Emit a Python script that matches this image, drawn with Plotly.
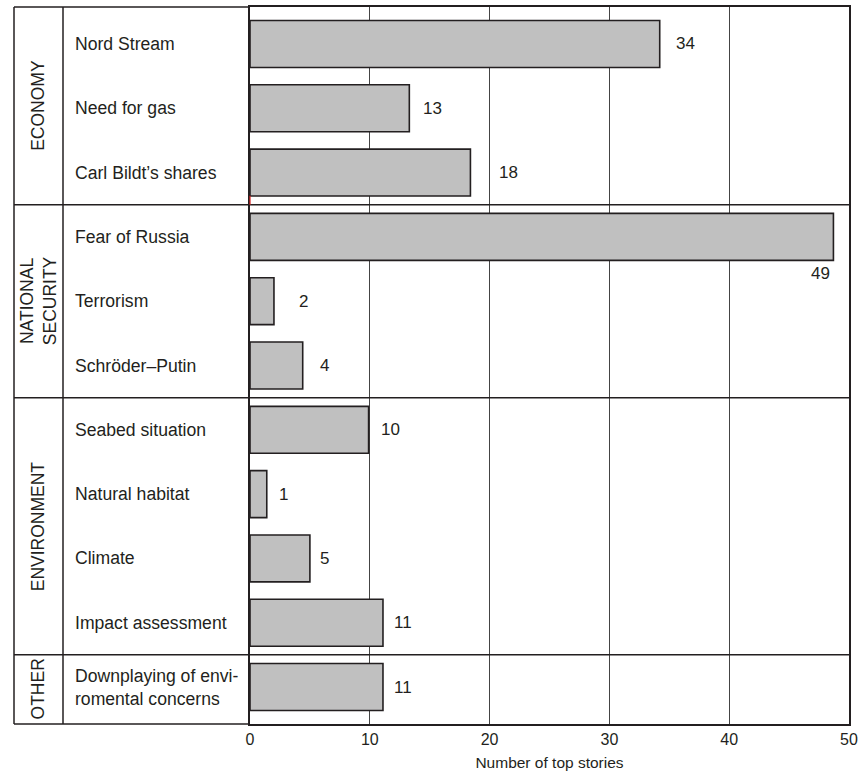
import plotly.graph_objects as go

# ---------------- data ----------------
categories = [
    "Nord Stream", "Need for gas", "Carl Bildt\u2019s shares",
    "Fear of Russia", "Terrorism", "Schr\u00f6der\u2013Putin",
    "Seabed situation", "Natural habitat", "Climate", "Impact assessment",
    "Downplaying of envi-<br>romental concerns",
]
bar_values = [34.2, 13.3, 18.4, 48.7, 2.0, 4.4, 9.9, 1.4, 5.0, 11.1, 11.1]  # bar lengths as drawn
count_labels = ["34", "13", "18", "49", "2", "4", "10", "1", "5", "11", "11"]  # printed counts
groups = ["ECONOMY", "NATIONAL<br>SECURITY", "ENVIRONMENT", "OTHER"]
group_sizes = [3, 3, 4, 1]
x_ticks = [0, 10, 20, 30, 40, 50]
x_title = "Number of top stories"

# ---------------- styling / layout constants ----------------
W, H = 858, 774
ML, MR, MT, MB = 250, 9, 7, 50
PW = W - ML - MR
Y0, Y1 = -0.575, len(categories) - 1 + 0.575
INK = "#231f20"
FONT = "Liberation Sans, Arial, Helvetica, sans-serif"
label_xshift = [14, 12, 27, None, 23, 15, 10, 10, 8, 9, 9]


def px_to_paper_x(px):
    return (px - ML) / PW


def idx_to_paper_y(i):
    return 1 - (i - Y0) / (Y1 - Y0)


fig = go.Figure()
fig.add_trace(go.Bar(
    y=categories, x=bar_values, orientation="h",
    marker=dict(color="#c0c0c0", line=dict(color=INK, width=1.6)),
    width=0.73, hoverinfo="skip",
))

annotations = []
# value labels
for i, (cat, v, lab) in enumerate(zip(categories, bar_values, count_labels)):
    if label_xshift[i] is None:
        annotations.append(dict(x=v, y=cat, xref="x", yref="y", text=lab, showarrow=False,
                                xanchor="right", yanchor="middle", xshift=-1, yshift=-37,
                                font=dict(size=17, color=INK, family=FONT)))
    else:
        annotations.append(dict(x=v, y=cat, xref="x", yref="y", text=lab, showarrow=False,
                                xanchor="left", yanchor="middle", xshift=label_xshift[i],
                                font=dict(size=17, color=INK, family=FONT)))
# category labels
for cat in categories:
    annotations.append(dict(x=px_to_paper_x(73), y=cat, xref="paper", yref="y", text=cat,
                            showarrow=False, xanchor="left", yanchor="middle", align="left",
                            font=dict(size=17.6, color=INK, family=FONT)))

shapes = []
# group labels and separators
start = 0
for g, n in zip(groups, group_sizes):
    lo = Y0 if start == 0 else start - 0.5
    hi = start + n - 0.5 if start + n < len(categories) else Y1
    mid = (lo + hi) / 2
    annotations.append(dict(x=px_to_paper_x(38), y=idx_to_paper_y(mid), xref="paper", yref="paper",
                            text=g, showarrow=False, textangle=-90, xanchor="center", yanchor="middle",
                            font=dict(size=17.5, color=INK, family=FONT)))
    if start + n < len(categories):
        yy = idx_to_paper_y(hi)
        shapes.append(dict(type="line", xref="paper", yref="paper", x0=px_to_paper_x(14), x1=1,
                           y0=yy, y1=yy, line=dict(color=INK, width=1.5), layer="above"))
    start += n

# left panel frame
for xp in (14, 63):
    shapes.append(dict(type="line", xref="paper", yref="paper", x0=px_to_paper_x(xp), x1=px_to_paper_x(xp),
                       y0=0, y1=1, line=dict(color=INK, width=1.5), layer="above"))
for yp in (0, 1):
    shapes.append(dict(type="line", xref="paper", yref="paper", x0=px_to_paper_x(14), x1=0,
                       y0=yp, y1=yp, line=dict(color=INK, width=1.5), layer="above"))
# small red mark at the axis (present in original)
shapes.append(dict(type="line", xref="paper", yref="paper", x0=0, x1=0,
                   y0=idx_to_paper_y(2.36), y1=idx_to_paper_y(2.5),
                   line=dict(color="#d62020", width=1.2), layer="above"))

fig.update_layout(
    width=W, height=H,
    margin=dict(l=ML, r=MR, t=MT, b=MB, autoexpand=False),
    paper_bgcolor="white", plot_bgcolor="white",
    showlegend=False,
    bargap=0.27,
    font=dict(family=FONT, color=INK),
    xaxis=dict(range=[0, 50], tickvals=x_ticks, ticktext=[str(t) for t in x_ticks],
               automargin=False,
               showgrid=True, gridcolor="#444444", gridwidth=1, zeroline=False,
               showline=True, linecolor=INK, linewidth=1.6, mirror=True, ticks="",
               tickfont=dict(size=16, color=INK, family=FONT),
               title=dict(text=x_title, font=dict(size=15.5, color=INK, family=FONT), standoff=10),
               fixedrange=True),
    yaxis=dict(type="category", categoryorder="array", categoryarray=categories,
               automargin=False,
               range=[Y1, Y0], showticklabels=False, showgrid=False, zeroline=False,
               showline=True, linecolor=INK, linewidth=1.6, mirror=True, ticks="",
               fixedrange=True),
    annotations=annotations,
    shapes=shapes,
)

fig.write_html("out.html", config={"displayModeBar": False},
               post_script="document.body.style.margin='0';document.body.style.overflow='hidden';")
